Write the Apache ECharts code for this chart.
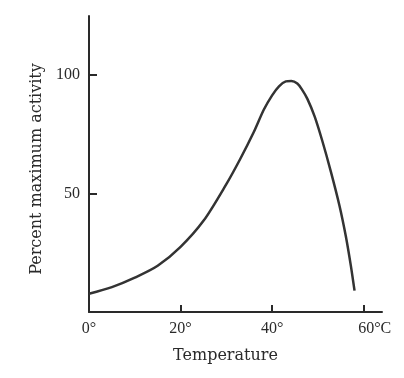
<!DOCTYPE html>
<html>
<head>
<meta charset="utf-8">
<script src="https://cdn.jsdelivr.net/npm/echarts@6/dist/echarts.min.js"></script>
<style>
  html, body { margin: 0; padding: 0; background: #fff; }
  #main { width: 404px; height: 378px; }
</style>
</head>
<body>
<div id="main"></div>
<script>
// temperature (°C) and percent of maximum activity
const temps    = [0, 5, 10, 15, 20, 25, 30, 33, 36, 38.2, 40, 41.5, 43, 44.2, 45.5, 46.5, 47.7, 49.3, 51, 52.8, 54.7, 56.1, 57.2, 58];
const activity = [7.7, 10.5, 14.5, 19.5, 27.5, 38.5, 54, 64.5, 76, 85.5, 91.5, 95.3, 97.4, 97.6, 96.5, 94, 90, 82.5, 72, 59.5, 45, 32, 19.5, 9];
const xTicks   = [20, 40, 60];
const xLabels  = [0, 20, 40, 60];
const yTicks   = [50, 100];

const serif = 'Liberation Serif';
const wideSerif = 'DejaVu Serif';
const ink = '#2a2a2a';

let myChart = echarts.init(document.getElementById('main'));

let option = {
  backgroundColor: '#fff',
  animation: false,
  grid: { left: 89, right: 22, top: 16, bottom: 66 },
  xAxis: {
    type: 'value',
    min: 0,
    max: 64,
    name: 'Temperature',
    nameLocation: 'middle',
    nameGap: 36,
    nameTextStyle: { fontFamily: wideSerif, fontSize: 16, color: ink, padding: [0, 20, 0, 0] },
    splitLine: { show: false },
    axisLine: { lineStyle: { color: ink, width: 2 } },
    axisTick: { inside: true, length: 7, customValues: xTicks, lineStyle: { color: ink, width: 2 } },
    axisLabel: {
      customValues: xLabels,
      margin: 9,
      fontFamily: serif,
      fontSize: 16,
      color: ink,
      formatter: function (v) {
        return v === 60 ? '{r|60°C}' : v + '°';
      },
      rich: { r: { fontFamily: serif, fontSize: 16, color: ink, padding: [0, 0, 0, 22] } }
    }
  },
  yAxis: {
    type: 'value',
    min: 0,
    max: 125,
    name: 'Percent maximum activity',
    nameLocation: 'middle',
    nameGap: 44,
    nameTextStyle: { fontFamily: wideSerif, fontSize: 16, color: ink, padding: [0, 10, 0, 0] },
    splitLine: { show: false },
    axisLine: { show: true, lineStyle: { color: ink, width: 2 } },
    axisTick: { show: true, inside: true, length: 8, customValues: yTicks, lineStyle: { color: ink, width: 2 } },
    axisLabel: { customValues: yTicks, margin: 9, fontFamily: serif, fontSize: 16, color: ink }
  },
  series: [{
    type: 'line',
    data: temps.map((t, i) => [t, activity[i]]),
    smooth: 0.3,
    showSymbol: false,
    lineStyle: { color: '#333', width: 2.5 }
  }]
};

myChart.setOption(option);
</script>
</body>
</html>
